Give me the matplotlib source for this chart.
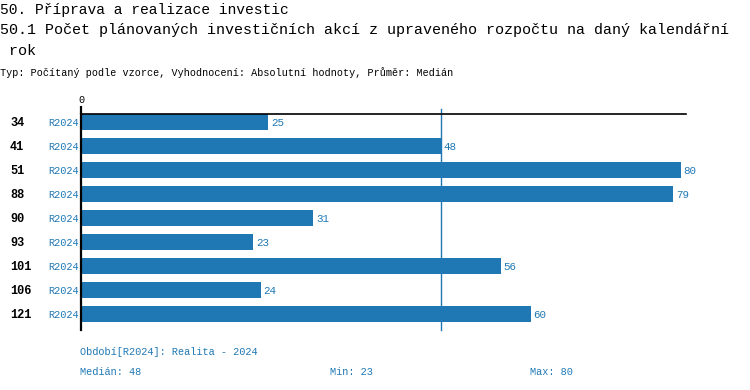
import matplotlib
matplotlib.use("Agg")
import matplotlib.pyplot as plt

# data
codes = ["34", "41", "51", "88", "90", "93", "101", "106", "121"]
period = "R2024"
values = [25, 48, 80, 79, 31, 23, 56, 24, 60]
median = 48
vmin = 23
vmax = 80

blue = "#1f78b4"
mono = ["Liberation Mono", "DejaVu Sans Mono"]
plt.rcParams["font.family"] = mono

W, H = 750, 390
fig = plt.figure(figsize=(W / 100, H / 100), dpi=100)

# axes in pixel coords
x0, x1 = 81, 686
y_top, y_bot = 114, 330
ax = fig.add_axes([x0 / W, 1 - y_bot / H, (x1 - x0) / W, (y_bot - y_top) / H])

n = len(codes)
pos = list(range(n))
ax.barh(pos, values, height=0.66, color=blue, zorder=2)
ax.set_ylim(n - 1 + 0.667, -0.333)
ax.set_xlim(0, 80.67)

for p, v in zip(pos, values):
    ax.text(v + 0.35, p + 0.03, str(v), color=blue, fontsize=7.8, va="center", ha="left")

ax.axvline(median, color=blue, lw=1, ymax=1 + 5 / 216, clip_on=False, zorder=1)

for s in ["right", "bottom"]:
    ax.spines[s].set_visible(False)
ax.spines["left"].set_linewidth(1.6)
ax.spines["top"].set_linewidth(1.2)
ax.xaxis.tick_top()
ax.set_xticks([0])
ax.tick_params(axis="x", length=6, width=1.6, labelsize=7.3, pad=0.5)
ax.set_yticks([])

# row labels
for p, c in zip(pos, codes):
    ax.text(-71 / 7.5, p + 0.03, c, fontsize=8.6, fontweight="bold", va="center", ha="left")
    ax.text(-2 / 7.5, p + 0.03, period, fontsize=7.4, color=blue, va="center", ha="right")

# titles
fig.text(0 / W, 1 - 10 / H, "50. Příprava a realizace investic", fontsize=10.5, va="center")
fig.text(0 / W, 1 - 30 / H,
         "50.1 Počet plánovaných investičních akcí z upraveného rozpočtu na daný kalendářní",
         fontsize=10.8, va="center")
fig.text(0 / W, 1 - 51 / H, " rok", fontsize=10.8, va="center")
fig.text(0 / W, 1 - 73 / H,
         "Typ: Počítaný podle vzorce, Vyhodnocení: Absolutní hodnoty, Průměr: Medián",
         fontsize=7.25, va="center")

# footer
fig.text(80 / W, 1 - 352 / H, "Období[" + period + "]: Realita - 2024", fontsize=7.4, color=blue, va="center")
fig.text(80 / W, 1 - 372 / H, "Medián: %d" % median, fontsize=7.4, color=blue, va="center")
fig.text(330 / W, 1 - 372 / H, "Min: %d" % vmin, fontsize=7.4, color=blue, va="center")
fig.text(530 / W, 1 - 372 / H, "Max: %d" % vmax, fontsize=7.4, color=blue, va="center")

fig.savefig("out.png", dpi=100)
